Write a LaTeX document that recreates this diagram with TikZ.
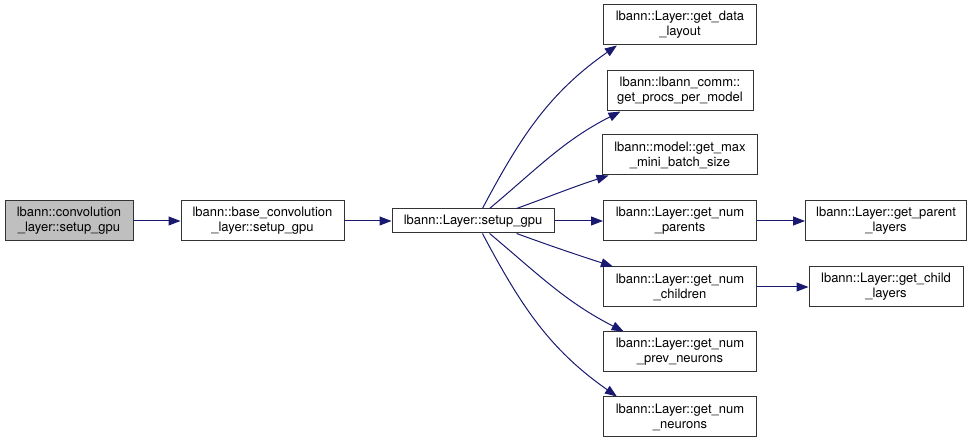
\documentclass[tikz,border=0pt]{standalone}
\usepackage{fontspec}
\setmainfont{TeX Gyre Heros}
\usetikzlibrary{arrows.meta}
\definecolor{edgeblue}{HTML}{191970}
\definecolor{rootgrey}{HTML}{BFBFBF}

\begin{document}
\begin{tikzpicture}[x=1pt, y=1pt,
	every node/.style={font=\fontsize{13}{15}\selectfont},
	fn/.style={draw=black!80, line width=1pt, fill=white, align=center, inner sep=0pt, minimum height=40pt},
	call/.style={draw=edgeblue, line width=1pt, -{Triangle[length=12pt, width=9pt]}}]
	\useasboundingbox (0,0) rectangle (973,443);
	\node[fn, fill=rootgrey, minimum width=128pt] (conv) at (69,222) {lbann::convolution\\\_layer::setup\_gpu};
	\node[fn, minimum width=163pt] (base) at (262.5,222) {lbann::base\_convolution\\\_layer::setup\_gpu};
	\node[fn, minimum width=162pt, minimum height=24pt] (setup) at (473,222) {lbann::Layer::setup\_gpu};
	\node[fn, minimum width=153pt] (layout) at (680,418) {lbann::Layer::get\_data\\\_layout};
	\node[fn, minimum width=146pt] (procs) at (680,352) {lbann::lbann\_comm::\\get\_procs\_per\_model};
	\node[fn, minimum width=155pt] (batch) at (680,288) {lbann::model::get\_max\\\_mini\_batch\_size};
	\node[fn, minimum width=153pt] (parents) at (680,222) {lbann::Layer::get\_num\\\_parents};
	\node[fn, minimum width=153pt] (children) at (680,156) {lbann::Layer::get\_num\\\_children};
	\node[fn, minimum width=153pt] (prevneur) at (680,91) {lbann::Layer::get\_num\\\_prev\_neurons};
	\node[fn, minimum width=153pt] (neurons) at (680,26) {lbann::Layer::get\_num\\\_neurons};
	\node[fn, minimum width=161pt] (parentlay) at (886,222) {lbann::Layer::get\_parent\\\_layers};
	\node[fn, minimum width=154pt] (childlay) at (886,156) {lbann::Layer::get\_child\\\_layers};
	\draw[call] (conv) -- (base);
	\draw[call] (base) -- (setup);
	\draw[call] (setup.53) to[out=62, in=215] (layout.198);
	\draw[call] (setup.37) to[out=40, in=207] (procs.199);
	\draw[call] (setup.16) to[out=20, in=198] (batch.196);
	\draw[call] (setup) -- (parents);
	\draw[call] (setup.-16) to[out=-20, in=162] (children.163);
	\draw[call] (setup.-37) to[out=-40, in=153] (prevneur.160);
	\draw[call] (setup.-53) to[out=-62, in=145] (neurons.162);
	\draw[call] (parents) -- (parentlay);
	\draw[call] (children) -- (childlay);
\end{tikzpicture}
\end{document}
